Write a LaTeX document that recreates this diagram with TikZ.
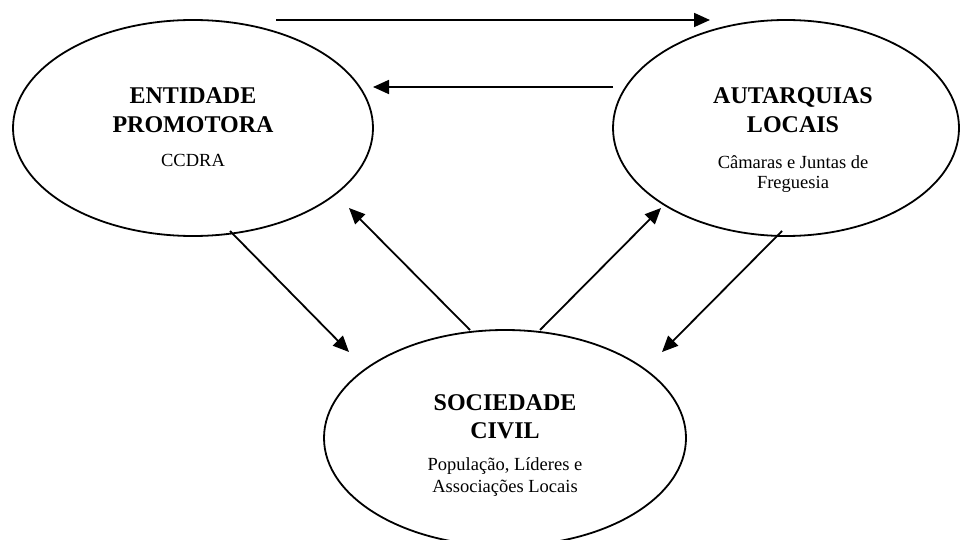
\documentclass[tikz,border=0pt]{standalone}
\usepackage{fontspec}
\setmainfont{Liberation Serif}
\usetikzlibrary{shapes.geometric,arrows.meta}
\begin{document}
\begin{tikzpicture}[x=1pt,y=-1pt,
  oval/.style={draw,ellipse,line width=1.8pt,inner sep=0pt},
  head/.style={font=\fontsize{24}{28}\selectfont\bfseries,anchor=base},
  sub/.style={font=\fontsize{18.5}{21}\selectfont,anchor=base},
  link/.style={line width=1.8pt,-{Triangle[length=16pt,width=14pt]}}]
\useasboundingbox (0,0) rectangle (960,540);
% ellipses
\node[oval,minimum width=360pt,minimum height=216pt] (e1) at (193,128) {};
\node[oval,minimum width=346pt,minimum height=216pt] (e2) at (786,128) {};
\node[oval,minimum width=362pt,minimum height=216pt] (e3) at (505,438) {};
% texts
\node[head] (t1a) at (193,104) {ENTIDADE};
\node[head] (t1b) at (193,133) {PROMOTORA};
\node[sub]  (t1c) at (193,167) {CCDRA};
\node[head] (t2a) at (793,104) {AUTARQUIAS};
\node[head] (t2b) at (793,133) {LOCAIS};
\node[sub]  (t2c) at (793,168) {Câmaras e Juntas de};
\node[sub]  (t2d) at (793,188) {Freguesia};
\node[head] (t3a) at (505,410) {SOCIEDADE};
\node[head] (t3b) at (505,438) {CIVIL};
\node[sub]  (t3c) at (505,470) {População, Líderes e};
\node[sub]  (t3d) at (505,492) {Associações Locais};
% connector end points
\coordinate (a1) at (276,20);  \coordinate (a2) at (710,20);
\coordinate (b1) at (613,87);  \coordinate (b2) at (373,87);
\coordinate (c1) at (230,231); \coordinate (c2) at (349,352);
\coordinate (d1) at (470,330); \coordinate (d2) at (349,208);
\coordinate (f1) at (540,330); \coordinate (f2) at (661,208);
\coordinate (g1) at (782,231); \coordinate (g2) at (662,352);
\draw[link] (a1) -- (a2);
\draw[link] (b1) -- (b2);
\draw[link] (c1) -- (c2);
\draw[link] (d1) -- (d2);
\draw[link] (f1) -- (f2);
\draw[link] (g1) -- (g2);
\end{tikzpicture}
\end{document}
